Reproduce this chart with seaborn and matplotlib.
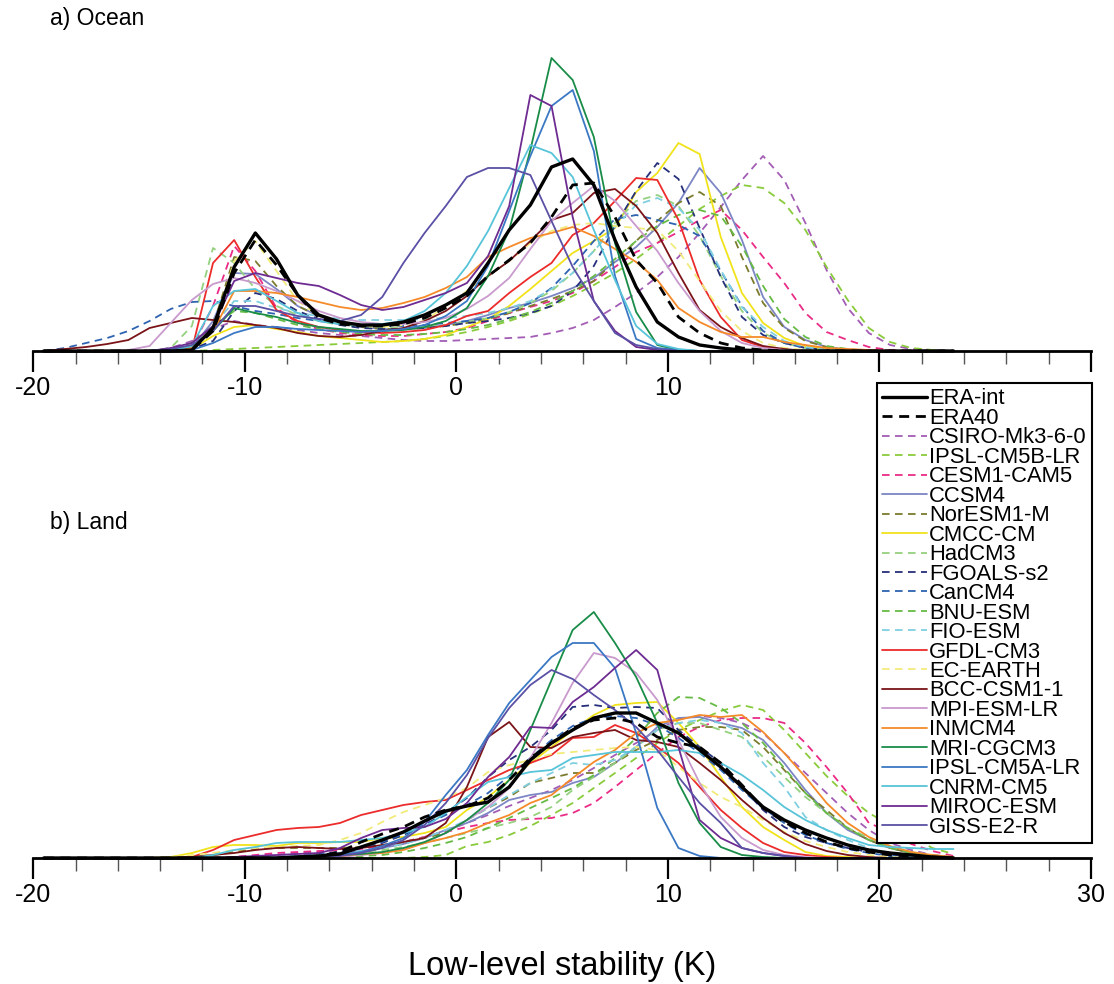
import numpy as np
import pandas as pd
import matplotlib
matplotlib.use("Agg")
import matplotlib.pyplot as plt
from matplotlib.ticker import MultipleLocator
import seaborn as sns

sns.set_style("white")
plt.rcParams["font.family"] = ["Liberation Sans", "DejaVu Sans"]
plt.rcParams["axes.unicode_minus"] = False
plt.rcParams["text.color"] = "black"
plt.rcParams["axes.labelcolor"] = "black"
plt.rcParams["xtick.color"] = "black"
plt.rcParams["axes.edgecolor"] = "black"

# ---------------- data ----------------
# bin centres of the low-level stability histograms (K)
bin_centres = np.arange(-19.5, 24.0, 1.0)

models = ["ERA-int", "ERA40", "CSIRO-Mk3-6-0", "IPSL-CM5B-LR", "CESM1-CAM5", "CCSM4",
          "NorESM1-M", "CMCC-CM", "HadCM3", "FGOALS-s2", "CanCM4", "BNU-ESM", "FIO-ESM",
          "GFDL-CM3", "EC-EARTH", "BCC-CSM1-1", "MPI-ESM-LR", "INMCM4", "MRI-CGCM3",
          "IPSL-CM5A-LR", "CNRM-CM5", "MIROC-ESM", "GISS-E2-R"]
colors = ["#000000", "#000000", "#a35db5", "#8acb3c", "#ea2c87", "#7d86c4",
          "#7b7b2d", "#f1e31b", "#94d17f", "#262f7a", "#2d63b0", "#66bb44", "#80cfe0",
          "#ec2b2b", "#f2eb7c", "#7b1418", "#c99acd", "#f58a2a", "#198c48",
          "#3b78c4", "#57c4d9", "#6e2b91", "#5a50a5"]
dashed = [False, True, True, True, True, False,
          True, False, True, True, True, True, True,
          False, True, False, False, False, False,
          False, False, False, False]

# ---- a) Ocean (relative frequency, %) ----
oc_era_int = [0, 0, 0, 0, 0, 0, 0, 0.1, 2.3, 8.4,
              11.8, 9.2, 5.6, 3.6, 2.9, 2.6, 2.6, 2.9, 3.6, 4.6,
              5.8, 8.8, 12.1, 14.6, 18.4, 19.2, 16.6, 11.1, 6.4, 2.9,
              1.4, 0.6, 0.3, 0.1, 0, 0, 0, 0, 0, 0,
              0, 0, 0, 0]
oc_era40 = [0, 0, 0, 0, 0, 0, 0, 0.1, 2.0, 7.8,
            11.1, 8.6, 5.6, 3.3, 2.7, 2.5, 2.5, 2.7, 3.3, 4.3,
            5.5, 7.5, 9.1, 10.8, 13.4, 16.6, 16.8, 13.4, 9.1, 6.8,
            3.4, 1.8, 0.8, 0.3, 0.1, 0, 0, 0, 0, 0,
            0, 0, 0, 0]
oc_csiro = [0, 0, 0, 0, 0, 0, 0.3, 1.0, 2.2, 3.0,
            2.6, 2.4, 2.1, 1.8, 1.6, 1.5, 1.3, 1.1, 1.0, 1.0,
            1.1, 1.2, 1.3, 1.4, 1.8, 2.3, 3.1, 4.4, 5.8, 7.4,
            9.4, 11.8, 14.4, 17.1, 19.5, 17.1, 12.8, 8.1, 4.3, 1.8,
            0.6, 0.2, 0.1, 0]
oc_ipsl5b = [0, 0, 0, 0, 0, 0, 0, 0, 0.1, 0.2,
             0.3, 0.4, 0.5, 0.6, 0.7, 0.8, 0.9, 1.0, 1.2, 1.5,
             1.9, 2.4, 3.0, 3.7, 4.5, 5.5, 6.6, 7.8, 9.2, 10.8,
             12.5, 14.2, 15.5, 16.6, 16.3, 14.8, 12.1, 8.4, 5.1, 2.3,
             0.9, 0.3, 0.1, 0]
oc_cesm = [0, 0, 0, 0, 0, 0, 0, 0.3, 4.5, 10.5,
           8.0, 4.3, 2.8, 2.2, 1.8, 1.6, 1.5, 1.5, 1.7, 1.9,
           2.3, 3.0, 3.8, 4.4, 5.0, 5.8, 7.0, 8.4, 9.9, 10.8,
           11.9, 13.1, 14.1, 12.1, 9.4, 6.8, 3.8, 1.9, 1.1, 0.4,
           0.1, 0, 0, 0]
oc_ccsm4 = [0, 0, 0, 0, 0, 0, 0, 0.3, 3.0, 7.8,
            7.7, 6.2, 4.5, 3.5, 2.8, 2.4, 2.2, 2.2, 2.3, 2.6,
            3.0, 3.6, 4.3, 4.8, 5.5, 6.3, 7.3, 8.9, 10.4, 12.4,
            14.8, 18.3, 15.8, 11.1, 5.4, 2.4, 1.1, 0.4, 0.1, 0,
            0, 0, 0, 0]
oc_noresm = [0, 0, 0, 0, 0, 0, 0, 0.2, 2.5, 9.4,
             9.0, 6.5, 4.5, 3.5, 2.8, 2.4, 2.2, 2.2, 2.3, 2.5,
             2.8, 3.2, 3.8, 4.5, 5.2, 6.0, 7.0, 9.0, 11.0, 13.0,
             14.8, 15.9, 14.5, 9.4, 4.8, 2.3, 1.0, 0.4, 0.1, 0,
             0, 0, 0, 0]
oc_cmcc = [0, 0, 0, 0, 0, 0, 0, 0.2, 1.5, 2.4,
           2.6, 2.2, 1.9, 1.5, 1.3, 1.1, 0.9, 1.0, 1.2, 1.6,
           2.4, 3.2, 4.5, 6.2, 8.0, 9.8, 11.0, 12.3, 15.9, 17.8,
           20.8, 19.7, 11.4, 5.8, 2.8, 1.3, 0.5, 0.2, 0, 0,
           0, 0, 0, 0]
oc_hadcm3 = [0, 0, 0, 0, 0, 0, 0.3, 2.5, 10.3, 8.8,
             6.2, 4.5, 3.6, 3.0, 2.6, 2.4, 2.3, 2.3, 2.4, 2.6,
             2.9, 3.3, 3.9, 4.8, 6.0, 7.8, 10.0, 12.8, 15.0, 15.6,
             14.5, 11.5, 7.5, 4.0, 1.8, 0.8, 0.3, 0.1, 0, 0,
             0, 0, 0, 0]
oc_fgoals = [0, 0, 0, 0, 0, 0, 0, 0.2, 1.0, 4.0,
             5.8, 5.2, 4.0, 3.2, 2.6, 2.3, 2.2, 2.2, 2.3, 2.5,
             2.8, 3.0, 3.3, 3.8, 4.5, 6.0, 8.5, 12.5, 16.0, 18.8,
             17.2, 12.3, 7.4, 3.4, 1.6, 0.8, 0.3, 0.1, 0, 0,
             0, 0, 0, 0]
oc_cancm4 = [0, 0.3, 0.8, 1.3, 2.0, 3.0, 4.2, 4.9, 5.0, 4.5,
             4.0, 3.7, 3.3, 3.0, 2.7, 2.6, 2.5, 2.5, 2.6, 2.8,
             3.0, 3.3, 3.9, 4.8, 6.3, 8.5, 11.0, 13.2, 13.6, 13.1,
             12.6, 11.5, 8.0, 4.5, 2.0, 0.8, 0.3, 0.1, 0, 0,
             0, 0, 0, 0]
oc_bnu = [0, 0, 0, 0, 0, 0, 0.2, 0.8, 2.5, 4.0,
          3.8, 3.2, 2.6, 2.2, 1.9, 1.7, 1.6, 1.6, 1.7, 1.9,
          2.2, 2.6, 3.2, 3.9, 4.8, 6.0, 7.5, 9.2, 11.0, 12.5,
          13.6, 14.1, 13.5, 10.5, 6.5, 3.2, 1.4, 0.5, 0.2, 0,
          0, 0, 0, 0]
oc_fio = [0, 0, 0, 0, 0, 0, 0, 0.3, 2.5, 5.0,
          5.0, 4.3, 3.8, 3.5, 3.2, 3.1, 3.1, 3.1, 3.2, 3.3,
          3.5, 3.8, 4.3, 5.0, 6.2, 7.8, 10.0, 12.4, 14.6, 15.3,
          14.3, 12.1, 8.1, 4.4, 2.4, 1.0, 0.4, 0.1, 0, 0,
          0, 0, 0, 0]
oc_gfdl = [0, 0, 0, 0, 0, 0, 0, 0.1, 8.8, 11.1,
           7.4, 4.1, 3.0, 2.4, 2.1, 1.9, 1.8, 1.9, 2.1, 2.6,
           3.5, 4.0, 5.8, 7.4, 8.8, 11.6, 12.8, 15.0, 17.3, 17.1,
           13.1, 7.1, 3.4, 1.1, 0.4, 0.1, 0, 0, 0, 0,
           0, 0, 0, 0]
oc_ecearth = [0, 0, 0, 0, 0, 0, 0, 0.2, 2.0, 9.0,
              11.0, 8.0, 5.0, 3.5, 2.8, 2.5, 2.4, 2.6, 3.0, 4.5,
              6.0, 7.5, 9.0, 10.8, 12.0, 12.6, 12.8, 12.5, 12.3, 12.1,
              10.0, 7.0, 4.0, 2.0, 0.8, 0.3, 0.1, 0, 0, 0,
              0, 0, 0, 0]
oc_bcc = [0, 0.2, 0.4, 0.7, 1.1, 2.3, 2.8, 3.3, 3.1, 2.9,
          2.6, 2.3, 1.8, 1.5, 1.4, 1.6, 2.0, 2.3, 3.0, 4.0,
          5.5, 7.5, 9.0, 11.0, 13.1, 13.8, 15.8, 16.2, 14.5, 11.8,
          7.8, 4.1, 2.4, 1.3, 0.5, 0.2, 0, 0, 0, 0,
          0, 0, 0, 0]
oc_mpi = [0, 0, 0, 0, 0.1, 0.5, 2.8, 5.1, 6.7, 7.3,
          6.8, 6.0, 5.0, 4.0, 3.3, 2.9, 2.7, 2.7, 2.9, 3.3,
          4.2, 5.5, 7.3, 10.2, 13.0, 14.8, 16.5, 15.0, 12.5, 10.0,
          6.8, 4.0, 2.0, 0.8, 0.3, 0.1, 0, 0, 0, 0,
          0, 0, 0, 0]
oc_inm = [0, 0, 0, 0, 0, 0, 0, 0.3, 2.0, 6.0,
          6.0, 5.8, 5.4, 4.9, 4.4, 4.1, 4.3, 4.8, 5.4, 6.3,
          7.4, 9.4, 10.4, 11.3, 11.8, 12.4, 11.5, 10.2, 8.9, 7.1,
          4.3, 2.9, 1.9, 1.4, 1.4, 0.9, 0.6, 0.3, 0.2, 0.1,
          0, 0, 0, 0]
oc_mri = [0, 0, 0, 0, 0, 0, 0.2, 0.5, 2.0, 4.3,
          3.8, 3.4, 2.8, 2.4, 2.2, 2.0, 2.0, 2.1, 2.4, 3.0,
          4.3, 7.5, 12.1, 20.1, 29.3, 27.1, 21.4, 10.8, 3.9, 0.6,
          0.1, 0, 0, 0, 0, 0, 0, 0, 0, 0,
          0, 0, 0, 0]
oc_ipsl5a = [0, 0, 0, 0, 0, 0, 0, 0.1, 0.8, 1.8,
             2.4, 2.4, 2.2, 2.1, 2.0, 1.9, 2.0, 2.2, 2.6, 3.5,
             5.0, 8.5, 14.0, 19.5, 24.5, 26.1, 20.0, 7.5, 1.2, 0.3,
             0.1, 0, 0, 0, 0, 0, 0, 0, 0, 0,
             0, 0, 0, 0]
oc_cnrm = [0, 0, 0, 0, 0, 0, 0, 0.5, 4.5, 6.0,
           6.2, 5.0, 3.8, 3.0, 2.7, 2.6, 2.7, 3.0, 4.0, 5.8,
           8.5, 12.0, 16.3, 20.6, 19.8, 17.4, 12.1, 7.1, 2.5, 0.7,
           0.2, 0, 0, 0, 0, 0, 0, 0, 0, 0,
           0, 0, 0, 0]
oc_miroc = [0, 0, 0, 0, 0, 0, 0.3, 0.8, 2.5, 7.0,
            7.8, 7.3, 6.8, 6.5, 5.6, 4.6, 4.1, 4.4, 5.1, 5.8,
            6.8, 9.5, 14.5, 25.6, 24.5, 13.4, 5.0, 2.0, 0.4, 0.1,
            0, 0, 0, 0, 0, 0, 0, 0, 0, 0,
            0, 0, 0, 0]
oc_giss = [0, 0, 0, 0, 0, 0, 0.2, 0.6, 2.0, 4.5,
           4.5, 4.0, 3.5, 3.2, 3.0, 3.6, 5.4, 8.8, 11.8, 14.5,
           17.4, 18.3, 18.3, 17.6, 13.0, 8.4, 5.0, 1.8, 0.6, 0.2,
           0, 0, 0, 0, 0, 0, 0, 0, 0, 0,
           0, 0, 0, 0]

# ---- b) Land (relative frequency, %) ----
ld_era_int = [0, 0, 0, 0, 0, 0, 0, 0, 0, 0,
              0, 0, 0.1, 0.2, 0.4, 1.1, 1.8, 2.6, 3.7, 4.7,
              5.2, 5.6, 7.1, 9.8, 11.5, 12.8, 14.0, 14.5, 14.5, 13.5,
              12.5, 10.8, 9.1, 7.1, 5.1, 3.8, 2.8, 2.0, 1.3, 0.8,
              0.5, 0.3, 0.1, 0]
ld_era40 = [0, 0, 0, 0, 0, 0, 0, 0, 0, 0,
            0, 0, 0.1, 0.2, 0.6, 1.6, 2.4, 3.1, 4.1, 4.8,
            5.2, 6.0, 7.8, 10.0, 11.5, 13.0, 13.8, 14.0, 13.5, 12.1,
            11.5, 11.1, 9.5, 7.3, 5.0, 3.6, 2.5, 1.6, 1.0, 0.6,
            0.3, 0.2, 0.1, 0]
ld_csiro = [0, 0, 0, 0, 0, 0, 0, 0, 0, 0.1,
            0.2, 0.3, 0.5, 0.6, 0.8, 1.0, 1.2, 1.6, 2.1, 2.7,
            3.5, 4.3, 5.2, 6.0, 6.8, 7.8, 9.0, 10.3, 11.5, 12.8,
            13.9, 14.2, 14.0, 13.5, 12.5, 10.5, 8.5, 6.5, 4.5, 2.8,
            1.5, 0.8, 0.3, 0.1]
ld_ipsl5b = [0, 0, 0, 0, 0, 0, 0, 0, 0, 0,
             0, 0, 0, 0, 0, 0, 0, 0, 0.1, 0.3,
             1.2, 1.6, 2.3, 3.2, 4.3, 5.5, 7.0, 8.5, 10.0, 11.5,
             12.8, 13.8, 14.7, 15.3, 14.8, 12.8, 10.5, 8.2, 6.2, 4.5,
             3.3, 2.2, 1.0, 0.4]
ld_cesm = [0, 0, 0, 0, 0, 0, 0, 0, 0, 0.1,
           0.3, 0.5, 0.6, 0.7, 0.8, 0.9, 1.2, 1.6, 2.1, 2.6,
           3.1, 3.5, 3.8, 3.9, 4.0, 4.5, 5.5, 7.1, 8.8, 10.5,
           12.1, 13.1, 13.8, 14.0, 14.0, 13.5, 11.5, 9.1, 6.5, 3.5,
           2.6, 1.4, 0.7, 0.2]
ld_ccsm4 = [0, 0, 0, 0, 0, 0, 0, 0, 0, 0,
            0, 0.1, 0.2, 0.3, 0.5, 0.7, 1.0, 1.4, 2.0, 2.8,
            3.5, 4.5, 5.8, 6.3, 6.6, 7.5, 8.1, 9.5, 11.1, 13.1,
            14.0, 14.1, 13.5, 13.0, 11.8, 9.5, 6.8, 4.5, 2.8, 1.8,
            1.0, 0.5, 0.2, 0]
ld_noresm = [0, 0, 0, 0, 0, 0, 0, 0.1, 0.3, 0.6,
             0.9, 1.0, 1.0, 1.0, 1.0, 1.1, 1.3, 1.6, 2.0, 2.5,
             3.8, 5.0, 6.1, 7.5, 8.0, 8.5, 8.5, 9.5, 10.8, 11.8,
             12.8, 13.1, 13.1, 12.8, 11.1, 8.8, 6.5, 4.8, 3.0, 1.8,
             1.0, 0.5, 0.2, 0]
ld_cmcc = [0, 0, 0, 0, 0, 0, 0.1, 0.5, 1.1, 1.3,
           1.3, 1.2, 1.5, 1.5, 1.6, 1.6, 2.0, 2.1, 2.5, 3.1,
           4.8, 6.1, 7.8, 9.5, 11.1, 12.8, 14.3, 15.3, 15.5, 15.6,
           13.5, 11.1, 8.1, 5.1, 3.1, 1.8, 0.6, 0.2, 0.1, 0,
           0, 0, 0, 0]
ld_hadcm3 = [0, 0, 0, 0, 0, 0, 0, 0, 0, 0,
             0, 0.1, 0.2, 0.3, 0.4, 0.6, 0.8, 1.1, 1.5, 2.0,
             2.5, 3.0, 3.5, 4.1, 5.1, 6.8, 8.1, 9.5, 11.1, 12.8,
             13.5, 13.5, 12.8, 12.1, 10.1, 8.1, 6.1, 4.5, 3.0, 2.0,
             1.2, 0.6, 0.3, 0.1]
ld_fgoals = [0, 0, 0, 0, 0, 0, 0, 0, 0, 0,
             0, 0, 0.2, 0.4, 0.6, 1.0, 1.5, 2.3, 3.3, 4.5,
             6.0, 8.1, 9.8, 11.1, 12.8, 15.1, 15.3, 15.0, 15.1, 15.0,
             12.8, 11.1, 9.5, 7.1, 4.8, 3.1, 2.1, 1.5, 1.0, 0.6,
             0.3, 0.1, 0, 0]
ld_cancm4 = [0, 0, 0, 0, 0, 0, 0, 0, 0, 0,
             0, 0.1, 0.2, 0.3, 0.6, 1.0, 1.6, 2.4, 3.3, 4.3,
             5.3, 6.5, 8.2, 10.0, 11.8, 13.2, 14.0, 14.2, 14.0, 13.3,
             12.0, 10.5, 8.8, 6.8, 5.0, 3.5, 2.3, 1.5, 0.9, 0.5,
             0.2, 0.1, 0, 0]
ld_bnu = [0, 0, 0, 0, 0, 0, 0, 0, 0, 0,
          0, 0, 0, 0, 0.1, 0.2, 0.3, 0.6, 1.0, 1.5,
          2.1, 3.0, 4.0, 5.0, 6.0, 7.0, 8.3, 10.0, 12.0, 14.5,
          16.1, 16.0, 15.0, 13.5, 11.5, 9.0, 6.5, 4.5, 3.0, 1.8,
          1.0, 0.5, 0.2, 0]
ld_fio = [0, 0, 0, 0, 0, 0, 0, 0, 0, 0,
          0, 0.1, 0.2, 0.3, 0.5, 0.7, 1.0, 1.4, 2.0, 2.8,
          3.8, 5.0, 6.3, 7.5, 8.5, 9.5, 9.3, 9.8, 11.1, 12.8,
          13.5, 13.8, 13.5, 12.5, 9.5, 7.1, 4.1, 2.8, 1.8, 1.0,
          0.5, 0.2, 0, 0]
ld_gfdl = [0, 0, 0, 0, 0, 0, 0, 0.1, 0.8, 1.8,
           2.3, 2.8, 3.0, 3.1, 3.5, 4.3, 4.8, 5.3, 5.6, 5.8,
           6.8, 7.8, 8.8, 9.5, 10.3, 12.0, 12.1, 13.3, 12.5, 11.1,
           9.5, 7.1, 4.8, 3.0, 1.5, 0.6, 0.3, 0.1, 0, 0,
           0, 0, 0, 0]
ld_ecearth = [0, 0, 0, 0, 0, 0, 0.1, 0.3, 0.5, 0.8,
              1.0, 1.1, 1.2, 1.3, 1.8, 2.5, 3.6, 4.6, 5.3, 6.0,
              7.0, 8.6, 9.3, 9.8, 10.4, 10.6, 10.8, 11.0, 11.1, 10.8,
              9.1, 7.5, 6.1, 5.1, 3.8, 2.6, 1.7, 1.1, 0.6, 0.3,
              0.1, 0, 0, 0]
ld_bcc = [0, 0, 0, 0, 0, 0, 0, 0.1, 0.3, 0.5,
          0.8, 1.0, 1.1, 1.0, 0.9, 1.0, 1.3, 1.6, 2.0, 3.5,
          7.1, 12.1, 13.6, 11.1, 11.0, 12.1, 12.5, 12.8, 11.8, 11.6,
          11.1, 9.5, 7.8, 5.8, 4.0, 2.5, 1.4, 0.7, 0.3, 0.1,
          0, 0, 0, 0]
ld_mpi = [0, 0, 0, 0, 0, 0, 0, 0, 0, 0,
          0, 0, 0, 0, 0.1, 0.3, 0.5, 0.9, 1.5, 2.5,
          3.8, 5.1, 7.0, 10.0, 13.5, 17.5, 20.5, 20.0, 18.5, 15.8,
          11.8, 7.5, 4.1, 2.0, 0.8, 0.3, 0.1, 0, 0, 0,
          0, 0, 0, 0]
ld_inm = [0, 0, 0, 0, 0, 0, 0, 0, 0, 0,
          0, 0, 0, 0.1, 0.2, 0.4, 0.5, 0.8, 1.5, 2.0,
          2.6, 3.5, 4.3, 5.5, 6.3, 8.0, 9.6, 10.8, 12.5, 13.5,
          13.8, 14.3, 14.1, 14.3, 12.6, 10.5, 8.1, 5.5, 3.5, 2.1,
          1.2, 0.6, 0.3, 0.1]
ld_mri = [0, 0, 0, 0, 0, 0, 0, 0, 0, 0,
          0, 0, 0.1, 0.2, 0.3, 0.4, 0.6, 1.0, 1.6, 2.5,
          3.8, 5.5, 7.8, 12.8, 17.8, 22.8, 24.6, 21.5, 18.1, 13.5,
          7.5, 3.5, 1.1, 0.3, 0.1, 0, 0, 0, 0, 0,
          0, 0, 0, 0]
ld_ipsl5a = [0, 0, 0, 0, 0, 0, 0, 0, 0, 0,
             0, 0, 0, 0.1, 0.3, 0.6, 1.2, 2.0, 3.6, 6.3,
             8.8, 12.3, 15.5, 17.8, 20.1, 21.5, 21.5, 19.0, 12.5, 5.0,
             1.0, 0.2, 0, 0, 0, 0, 0, 0, 0, 0,
             0, 0, 0, 0]
ld_cnrm = [0, 0, 0, 0, 0, 0, 0, 0, 0.3, 0.8,
           1.1, 1.5, 1.6, 1.6, 1.6, 1.8, 2.0, 2.5, 3.1, 4.5,
           6.1, 7.6, 8.1, 8.6, 8.8, 10.0, 10.3, 10.6, 10.6, 10.6,
           10.8, 10.5, 9.5, 8.3, 6.8, 5.1, 3.8, 2.8, 2.0, 1.3,
           1.1, 1.0, 0.9, 0.9]
ld_miroc = [0, 0, 0, 0, 0, 0, 0, 0, 0, 0.1,
            0.2, 0.3, 0.4, 0.5, 1.0, 2.0, 2.8, 3.0, 3.1, 3.9,
            5.5, 8.1, 10.1, 13.1, 13.0, 15.6, 17.1, 19.0, 20.8, 18.8,
            11.1, 3.8, 2.0, 1.0, 0.5, 0.2, 0, 0, 0, 0,
            0, 0, 0, 0]
ld_giss = [0, 0, 0, 0, 0, 0, 0, 0, 0, 0,
           0, 0, 0, 0.1, 0.2, 0.5, 1.0, 1.8, 3.3, 5.5,
           8.3, 12.0, 15.0, 17.3, 18.8, 17.9, 16.3, 14.8, 13.1, 10.8,
           8.1, 5.5, 3.5, 1.0, 0.5, 0.2, 0, 0, 0, 0,
           0, 0, 0, 0]

ocean = [oc_era_int, oc_era40, oc_csiro, oc_ipsl5b, oc_cesm, oc_ccsm4, oc_noresm,
         oc_cmcc, oc_hadcm3, oc_fgoals, oc_cancm4, oc_bnu, oc_fio, oc_gfdl, oc_ecearth,
         oc_bcc, oc_mpi, oc_inm, oc_mri, oc_ipsl5a, oc_cnrm, oc_miroc, oc_giss]
land = [ld_era_int, ld_era40, ld_csiro, ld_ipsl5b, ld_cesm, ld_ccsm4, ld_noresm,
        ld_cmcc, ld_hadcm3, ld_fgoals, ld_cancm4, ld_bnu, ld_fio, ld_gfdl, ld_ecearth,
        ld_bcc, ld_mpi, ld_inm, ld_mri, ld_ipsl5a, ld_cnrm, ld_miroc, ld_giss]
for s in ocean + land:
    assert len(s) == len(bin_centres), len(s)

# ---------------- figure ----------------
W, H = 1114, 984
fig = plt.figure(figsize=(W / 100, H / 100), dpi=100)
x0, x1 = 33.2, 1091.0
ax_a = fig.add_axes([x0 / W, 1 - 351 / H, (x1 - x0) / W, 300 / H])
ax_b = fig.add_axes([x0 / W, 1 - 858 / H, (x1 - x0) / W, 300 / H])


def draw(ax, series):
    handles = {}
    order = list(range(2, len(models))) + [1, 0]   # models first, reanalyses on top
    for i in order:
        name = models[i]
        df = pd.DataFrame({"stability": bin_centres, "freq": series[i]})
        if name == "ERA-int":
            lw, z = 2.4, 6
        elif name == "ERA40":
            lw, z = 2.0, 5
        else:
            lw, z = 1.3, 2
        sns.lineplot(data=df, x="stability", y="freq", ax=ax, color=colors[i],
                     lw=lw, zorder=z, legend=False, label=name, errorbar=None, sort=False)
        ln = ax.lines[-1]
        ln.set_clip_on(False)
        if dashed[i]:
            ln.set_dashes([3.6, 2.4] if name == "ERA40" else [4.2, 3.0])
        handles[name] = ln
    return [handles[m] for m in models]


hand = draw(ax_a, ocean)
draw(ax_b, land)

for ax in (ax_a, ax_b):
    ax.set_xlim(-20, 30)
    ax.set_ylim(0, 30)
    for sp in ("left", "right", "top"):
        ax.spines[sp].set_visible(False)
    ax.spines["bottom"].set_linewidth(2.0)
    ax.spines["bottom"].set_color("black")
    ax.spines["bottom"].set_zorder(7)
    ax.set_yticks([])
    ax.set_xticks([-20, -10, 0, 10, 20, 30])
    ax.xaxis.set_minor_locator(MultipleLocator(2))
    ax.tick_params(axis="x", which="both", bottom=True, top=False)
    ax.tick_params(axis="x", which="major", length=15, width=1.6, direction="out",
                   labelsize=18, pad=3, color="black", labelcolor="black")
    ax.tick_params(axis="x", which="minor", length=9, width=1.0, direction="out",
                   color="#555555")
    ax.set_xlabel("")
    ax.set_ylabel("")
    ax.patch.set_alpha(0)

ax_a.set_xticklabels(["-20", "-10", "0", "10", "", ""])
ax_b.set_xticklabels(["-20", "-10", "0", "10", "20", "30"])
ax_b.set_xlabel("Low-level stability (K)", fontsize=23.5, color="black")
ax_b.xaxis.set_label_coords(0.5, (858 - 966) / 300)
ax_b.xaxis.label.set_va("center")

fig.text(50 / W, 1 - 18 / H, "a) Ocean", fontsize=16.5, ha="left", va="center", color="black")
fig.text(50 / W, 1 - 523 / H, "b) Land", fontsize=16.5, ha="left", va="center", color="black")

leg = fig.legend(hand, models, loc="upper left",
                 bbox_to_anchor=(877 / W, 1 - 383 / H), bbox_transform=fig.transFigure,
                 frameon=True, fancybox=False, edgecolor="black", framealpha=1,
                 borderpad=0.25, labelspacing=-0.07, handlelength=2.05,
                 handletextpad=0.08, borderaxespad=0, fontsize=15.8)
leg.get_frame().set_linewidth(1.5)
leg.set_zorder(20)
for t in leg.get_texts():
    t.set_color("black")

fig.savefig("out.png", dpi=100)
